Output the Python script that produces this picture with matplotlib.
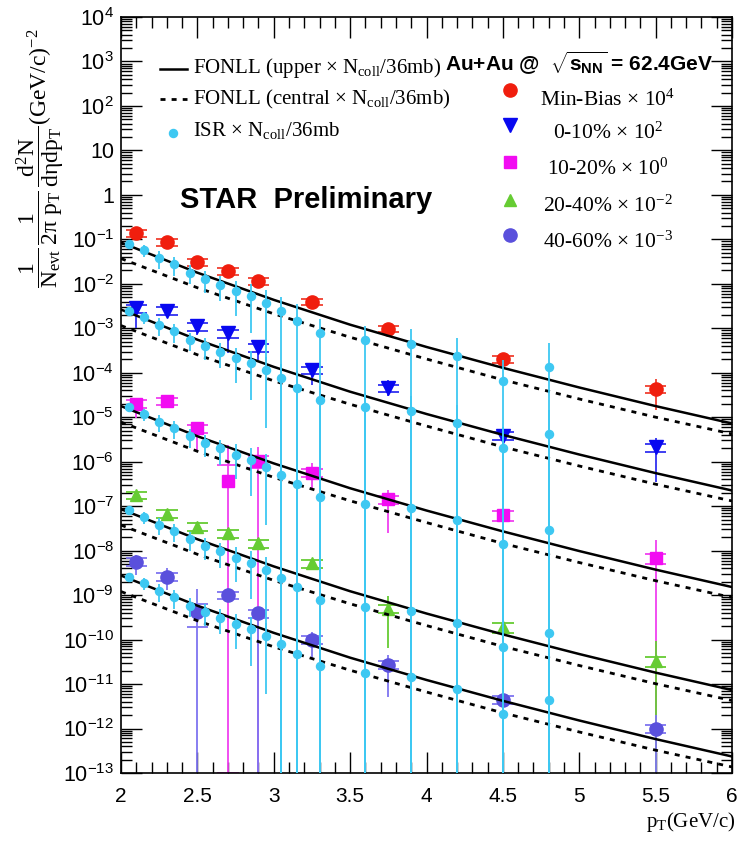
import matplotlib.pyplot as plt
import numpy as np
from matplotlib.ticker import MultipleLocator, LogLocator, FuncFormatter, NullFormatter

plt.rcParams['font.family'] = ['Liberation Sans', 'DejaVu Sans']
plt.rcParams['mathtext.fontset'] = 'custom'
plt.rcParams['mathtext.rm'] = 'Liberation Serif'
plt.rcParams['mathtext.it'] = 'Liberation Serif:italic'
plt.rcParams['mathtext.bf'] = 'Liberation Sans:bold'
plt.rcParams['mathtext.sf'] = 'Liberation Sans'

# non-photonic electron spectra, already multiplied by the factor in the legend
pt_hfe = [2.1, 2.3, 2.5, 2.7, 2.9, 3.25, 3.75, 4.5, 5.5]
y_mb = [0.139, 0.087, 0.031, 0.0195, 0.0116, 0.0039, 9.6e-4, 2.0e-4, 4.3e-5]
y_010 = [2.8e-3, 2.5e-3, 1.1e-3, 7.7e-4, 3.7e-4, 1.15e-4, 4.5e-5, 3.8e-6, 2.1e-6]
y_1020 = [2.0e-5, 2.3e-5, 5.6e-6, 3.6e-7, 1.04e-6, 5.7e-7, 1.43e-7, 6.3e-8, 6.7e-9]
y_2040 = [1.78e-7, 6.7e-8, 3.45e-8, 2.45e-8, 1.46e-8, 5.2e-9, 5.0e-10, 1.9e-10, 3.3e-11]
y_4060 = [5.6e-9, 2.6e-9, 4.2e-10, 1.0e-9, 3.9e-10, 9.8e-11, 2.7e-11, 4.4e-12, 1.0e-12]

# relative statistical errors (down, up); 1.0 down means the bar reaches zero
stat_lo_mb = [0.05, 0.05, 0.05, 0.05, 0.05, 0.08, 0.12, 0.3, 0.66]
stat_hi_mb = [0.05, 0.05, 0.05, 0.05, 0.05, 0.08, 0.12, 0.4, 0.68]
stat_lo_010 = [0.64, 0.27, 0.35, 0.64, 0.48, 0.54, 0.34, 0.19, 0.83]
stat_hi_010 = [0.34, 0.36, 0.41, 0.41, 0.34, 0.41, 0.51, 0.23, 0.59]
stat_lo_1020 = [0.52, 0.15, 0.67, 1.0, 1.0, 0.59, 0.83, 0.15, 1.0]
stat_hi_1020 = [0.34, 0.15, 0.41, 5.7, 1.06, 0.65, 0.62, 0.15, 1.58]
stat_lo_2040 = [0.15, 0.15, 0.15, 0.15, 0.15, 0.2, 0.87, 0.2, 1.0]
stat_hi_2040 = [0.15, 0.15, 0.15, 0.15, 0.15, 0.2, 0.96, 0.2, 1.82]
stat_lo_4060 = [0.5, 0.5, 1.0, 0.29, 1.0, 0.61, 0.81, 0.2, 1.0]
stat_hi_4060 = [0.41, 0.54, 2.34, 0.41, 0.41, 0.54, 0.68, 0.2, 0.99]

# relative systematic errors, drawn as brackets
sys_mb = [0.18, 0.18, 0.18, 0.18, 0.18, 0.15, 0.15, 0.18, 0.18]
sys_010 = [0.2, 0.2, 0.2, 0.2, 0.2, 0.2, 0.2, 0.2, 0.2]
sys_1020 = [0.2, 0.2, 0.2, 1.37, 0.3, 0.2, 0.2, 0.25, 0.25]
sys_2040 = [0.2, 0.2, 0.2, 0.2, 0.2, 0.2, 0.2, 0.25, 0.25]
sys_4060 = [0.2, 0.2, 0.54, 0.2, 0.2, 0.2, 0.2, 0.2, 0.2]

cent_names = ['Min-Bias', '0-10%', '10-20%', '20-40%', '40-60%']
cent_powers = [4, 2, 0, -2, -3]
ncoll = [280, 871, 588, 284, 91]

# ISR p+p electron cross section [mb]
pt_isr = [2.05, 2.15, 2.25, 2.35, 2.45, 2.55, 2.65, 2.75, 2.85, 2.95,
          3.05, 3.15, 3.3, 3.6, 3.9, 4.2, 4.5, 4.8]
isr_pp = [1.026e-6, 7.30e-7, 4.90e-7, 3.54e-7, 2.29e-7, 1.63e-7, 1.23e-7,
          8.87e-8, 6.84e-8, 4.69e-8, 3.15e-8, 1.90e-8, 9.9e-9, 7.0e-9,
          5.6e-9, 3.06e-9, 8.5e-10, 1.76e-9]
isr_rel_err = [0.12, 0.3, 0.42, 0.45, 0.45, 0.52, 0.57, 0.72, 0.85, 0.95,
               1.1, 1.4, 1.1, 1.1, 1.2, 1.5, 2.0, 2.4]

# FONLL p+p electron cross section [mb]
pt_fonll = [2.0, 2.5, 3.0, 3.5, 4.0, 4.5, 5.0, 5.5, 6.0]
fonll_upper = [1.09e-6, 2.29e-7, 5.61e-8, 1.55e-8, 4.89e-9, 1.66e-9,
               6.0e-10, 2.29e-10, 9.3e-11]
fonll_central = [4.76e-7, 1.05e-7, 2.72e-8, 8.09e-9, 2.62e-9, 8.9e-10,
                 3.31e-10, 1.29e-10, 5.41e-11]
sigma_inel = 36.0

YMIN, YMAX = 1e-13, 1e4

series = [
    (y_mb, stat_lo_mb, stat_hi_mb, sys_mb, 'o', 9.5, '#f01e0e', '#f04030'),
    (y_010, stat_lo_010, stat_hi_010, sys_010, 'v', 9.5, '#0808f0', '#3030f0'),
    (y_1020, stat_lo_1020, stat_hi_1020, sys_1020, 's', 8.6, '#f20cf2', '#f040f0'),
    (y_2040, stat_lo_2040, stat_hi_2040, sys_2040, '^', 8.5, '#66cc33', '#66cc33'),
    (y_4060, stat_lo_4060, stat_hi_4060, sys_4060, 'o', 9.5, '#5a50dc', '#7e74f0'),
]
isr_col = '#3ec8f2'

fig = plt.figure(figsize=(7.47, 8.42), dpi=100)
ax = fig.add_axes([121 / 747, 69 / 842, 611 / 747, 756 / 842])
ax.set_yscale('log')
ax.set_xlim(2, 6)
ax.set_ylim(YMIN, YMAX)

pt = np.array(pt_hfe)
for y, slo, shi, sy, mk, ms, col, lcol in series:
    y = np.array(y)
    lo = y * (1 - np.array(slo))
    lo = np.where(lo > 0, lo, YMIN * 1e-3)
    hi = y * (1 + np.array(shi))
    ax.vlines(pt, lo, hi, color=lcol, lw=1.3, zorder=2)
    s = np.array(sy)
    for x, top, bot in zip(pt, y * (1 + s), y * (1 - s)):
        ax.hlines([top, max(bot, YMIN * 1.02)], x - 0.07, x + 0.07,
                  color=lcol, lw=1.3, zorder=2)
    ax.plot(pt, y, ls='none', marker=mk, ms=ms, color=col, mec=col, zorder=3)

for k in range(5):
    scale = ncoll[k] / sigma_inel * 10.0 ** cent_powers[k]
    ax.plot(pt_fonll, np.array(fonll_upper) * scale, color='black', lw=1.8,
            zorder=4)
    ax.plot(pt_fonll, np.array(fonll_central) * scale, color='black', lw=2.0,
            ls=(0, (1.8, 2.2)), zorder=4)

    yv = np.array(isr_pp) * scale
    err = np.array(isr_rel_err)
    lo = yv * (1 - err)
    lo = np.where(lo > 0, lo, YMIN * 1e-3)
    ax.vlines(pt_isr, lo, yv * (1 + err), color=isr_col, lw=1.3, zorder=5)
    ax.plot(pt_isr, yv, ls='none', marker='o', ms=5.8, color=isr_col, zorder=6)

# axis ticks
ax.xaxis.set_major_locator(MultipleLocator(0.5))
ax.xaxis.set_minor_locator(MultipleLocator(0.1))
ax.xaxis.set_major_formatter(FuncFormatter(lambda v, p: '%g' % v))
ax.yaxis.set_major_locator(LogLocator(base=10, numticks=30))
ax.yaxis.set_minor_locator(LogLocator(base=10, subs=np.arange(2, 10), numticks=30))
ax.yaxis.set_minor_formatter(NullFormatter())


def ylab(v, pos):
    e = int(round(np.log10(v)))
    if e == 0:
        return '1'
    if e == 1:
        return '10'
    return r'$\mathregular{10^{%d}}$' % e


ax.yaxis.set_major_formatter(FuncFormatter(ylab))
ax.tick_params(which='both', direction='in', top=True, right=True, width=1.0)
ax.tick_params(which='major', length=15)
ax.tick_params(which='minor', length=8)
ax.tick_params(axis='x', labelsize=15, pad=10)
ax.tick_params(axis='y', labelsize=15.5, pad=5)
for sp in ax.spines.values():
    sp.set_linewidth(1.2)

# axis titles
fig.text(40 / 747, 1 - 158 / 842,
         r'$\dfrac{1}{\mathrm{N}_{\mathrm{evt}}}\,\dfrac{1}{\mathrm{2\pi\ p}_{\mathrm{T}}}'
         r'\,\dfrac{\mathrm{d}^{2}\mathrm{N}}{\mathrm{d\eta dp}_{\mathrm{T}}}'
         r'\mathrm{(GeV/c)}^{-2}$',
         rotation=90, ha='center', va='center', fontsize=17)
fig.text(735 / 747, 1 - 822 / 842, r'$\mathrm{p}_{\mathrm{T}}\mathrm{(GeV/c)}$',
         ha='right', va='center', fontsize=15)

# model legend
ax.plot([0.064, 0.108], [0.931, 0.931], transform=ax.transAxes, color='black',
        lw=1.8)
ax.plot([0.064, 0.108], [0.8915, 0.8915], transform=ax.transAxes,
        color='black', lw=2.0, ls=(0, (1.8, 2.2)))
ax.plot([0.085], [0.8466], transform=ax.transAxes, ls='none', marker='o',
        ms=5.8, color=isr_col)
leg_txt = [r'FONLL (upper $\times$ N$_{\mathrm{coll}}$/36mb)',
           r'FONLL (central $\times$ N$_{\mathrm{coll}}$/36mb)',
           r'ISR $\times$ N$_{\mathrm{coll}}$/36mb']
for t, yy in zip(leg_txt, [0.9325, 0.8915, 0.8505]):
    ax.text(0.118, yy, t, transform=ax.transAxes, ha='left', va='center',
            fontsize=15, family='Liberation Serif')

# centrality legend
mark_y = [0.9034, 0.8571, 0.8082, 0.7579, 0.7116]
text_y = [0.8902, 0.8466, 0.7989, 0.7500, 0.7024]
for k in range(5):
    mk, ms, col = series[k][4], series[k][5], series[k][6]
    ax.plot([0.6367], [mark_y[k]], transform=ax.transAxes, ls='none',
            marker=mk, ms=ms, color=col)
    ax.text(0.797, text_y[k],
            r'%s $\times$ 10$^{%d}$' % (cent_names[k], cent_powers[k]),
            transform=ax.transAxes, ha='center', va='center', fontsize=15.5,
            family='Liberation Serif')

fig.text(445 / 747, 1 - 63 / 842,
         r'Au+Au @  $\sqrt{\mathbf{s}_{\mathbf{NN}}}$ = 62.4GeV',
         ha='left', va='center', fontsize=15, fontweight='bold')
ax.text((180 - 121) / 611, (773 - 200) / 756, 'STAR  Preliminary',
        transform=ax.transAxes, ha='left', va='center', fontsize=21,
        fontweight='bold')

fig.savefig('out.png', dpi=100)
